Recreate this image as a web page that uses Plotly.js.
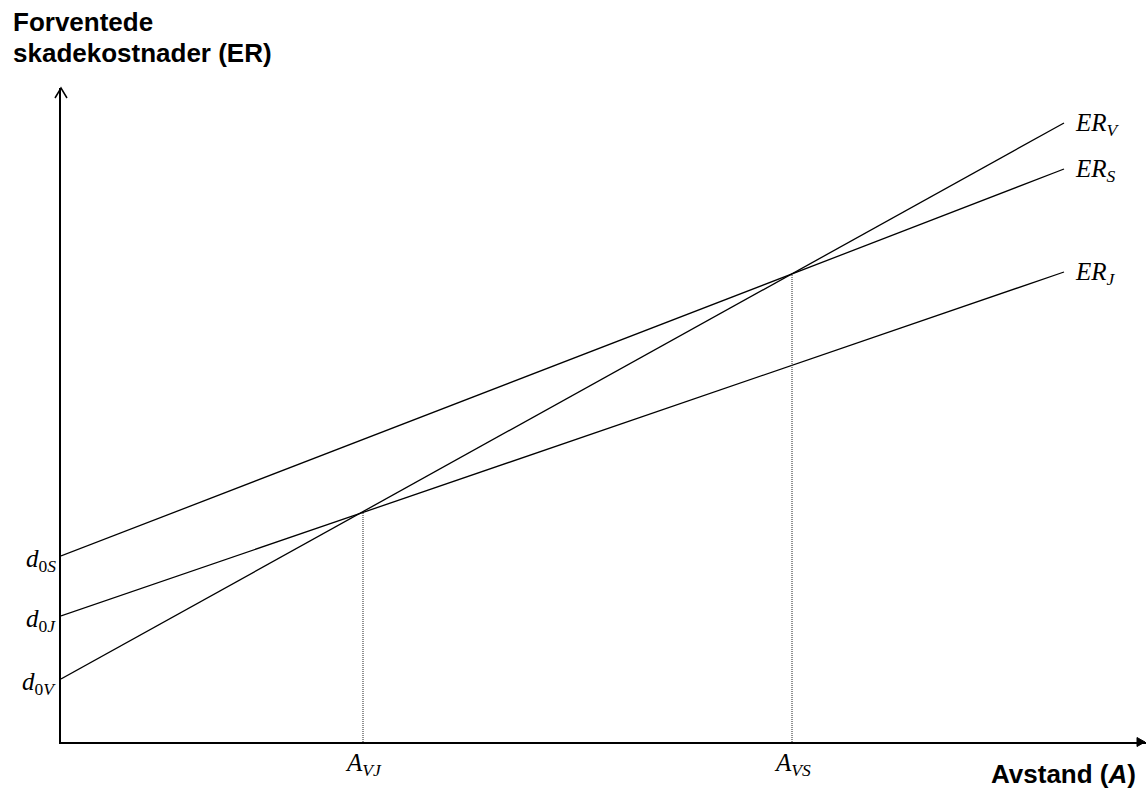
<!DOCTYPE html>
<html>
<head>
<meta charset="utf-8">
<script src="https://cdn.plot.ly/plotly-3.0.1.min.js"></script>
<style>html,body{margin:0;padding:0;background:#fff;}#chart{width:1146px;height:789px;}</style>
</head>
<body>
<div id="chart"></div>
<script>
// Distance (A) at the two ends of each line
const distance = [0, 1003];
// Expected damage cost lines (ER)
const erS = [186, 573];
const erJ = [126, 470];
const erV = [63, 619];
// Intersection points
const crossNames = ['A<sub><i>VJ</i></sub>', 'A<sub><i>VS</i></sub>'];
const crossX = [302, 731];
const crossY = [230, 468];
// Labels
const titleLines = ['Forventede', 'skadekostnader (ER)'];
const lineLabels = ['<i>ER</i><sub><i>V</i></sub>', '<i>ER</i><sub><i>S</i></sub>', '<i>ER</i><sub><i>J</i></sub>'];
const interceptLabels = ['<i>d</i><sub>0<i>S</i></sub>', '<i>d</i><sub>0<i>J</i></sub>', '<i>d</i><sub>0<i>V</i></sub>'];

const serif = 'Liberation Serif, Times New Roman, serif';
const sans = 'Liberation Sans, Arial, sans-serif';

const W = 1146, H = 789;
const mL = 61, mR = 0, mT = 88, mB = 47;
const xMax = W - mL - mR;   // 1085
const yMax = H - mT - mB;   // 654

const lineStyle = {color: '#000', width: 1.3};
const traces = [
  {x: distance, y: erS, mode: 'lines', line: lineStyle, hoverinfo: 'skip'},
  {x: distance, y: erJ, mode: 'lines', line: lineStyle, hoverinfo: 'skip'},
  {x: distance, y: erV, mode: 'lines', line: lineStyle, hoverinfo: 'skip'}
];
crossX.forEach((cx, i) => {
  traces.push({x: [cx, cx], y: [0, crossY[i]], mode: 'lines',
    line: {color: '#222', width: 1, dash: '1px,1px'}, hoverinfo: 'skip'});
});

const px = v => v / xMax;   // pixel offset -> paper x
const py = v => v / yMax;   // pixel offset -> paper y
const yOfPixel = p => py(H - mB - p);

const annotations = [];
// Title (two lines)
const titleCenters = [22, 53];
titleLines.forEach((t, i) => {
  annotations.push({xref: 'paper', yref: 'paper', x: px(11 - mL), y: yOfPixel(titleCenters[i]),
    xanchor: 'left', yanchor: 'middle', align: 'left', showarrow: false,
    text: '<b>' + t + '</b>', font: {family: sans, size: 26, color: '#000'}});
});
// X axis title
annotations.push({xref: 'paper', yref: 'paper', x: px(1138 - mL), y: yOfPixel(774),
  xanchor: 'right', yanchor: 'middle', showarrow: false,
  text: '<b>Avstand (<i>A</i>)</b>', font: {family: sans, size: 26, color: '#000'}});
// Line-end labels
const ends = [erV[1], erS[1], erJ[1]];
lineLabels.forEach((t, i) => {
  annotations.push({xref: 'x', yref: 'y', x: distance[1], y: ends[i], xanchor: 'left', yanchor: 'middle',
    xshift: 9, yshift: -1, showarrow: false, text: t, font: {family: serif, size: 25, color: '#000'}});
});
// Intercept labels
const starts = [erS[0], erJ[0], erV[0]];
interceptLabels.forEach((t, i) => {
  annotations.push({xref: 'x', yref: 'y', x: 0, y: starts[i], xanchor: 'right', yanchor: 'middle',
    xshift: -3, yshift: -4, showarrow: false, text: t, font: {family: serif, size: 25, color: '#000'}});
});
// Intersection labels
crossNames.forEach((t, i) => {
  annotations.push({xref: 'x', yref: 'y', x: crossX[i], y: 0, xanchor: 'center', yanchor: 'top',
    yshift: -5, showarrow: false, text: '<i>' + t + '</i>', font: {family: serif, size: 25, color: '#000'}});
});

const shapes = [
  // x axis arrow head (filled)
  {type: 'path', xref: 'paper', yref: 'paper',
   path: `M ${px(xMax - 9)} ${py(4.5)} L ${px(xMax - 1)} ${py(0)} L ${px(xMax - 9)} ${py(-4.5)} Z`,
   fillcolor: '#000', line: {color: '#000', width: 1}},
  // y axis arrow head (open)
  {type: 'path', xref: 'paper', yref: 'paper',
   path: `M ${px(-6)} ${py(yMax - 10)} L ${px(0)} ${py(yMax)} L ${px(6)} ${py(yMax - 10)}`,
   line: {color: '#000', width: 1.5}}
];

const layout = {
  width: W, height: H,
  margin: {l: mL, r: mR, t: mT, b: mB, pad: 0},
  paper_bgcolor: '#fff', plot_bgcolor: '#fff',
  showlegend: false,
  xaxis: {range: [0, xMax], showgrid: false, zeroline: false, showticklabels: false, ticks: '',
          showline: true, linecolor: '#000', linewidth: 2, fixedrange: true},
  yaxis: {range: [0, yMax], showgrid: false, zeroline: false, showticklabels: false, ticks: '',
          showline: true, linecolor: '#000', linewidth: 2, fixedrange: true},
  annotations: annotations,
  shapes: shapes
};

Plotly.newPlot('chart', traces, layout, {staticPlot: true, displayModeBar: false});
</script>
</body>
</html>
